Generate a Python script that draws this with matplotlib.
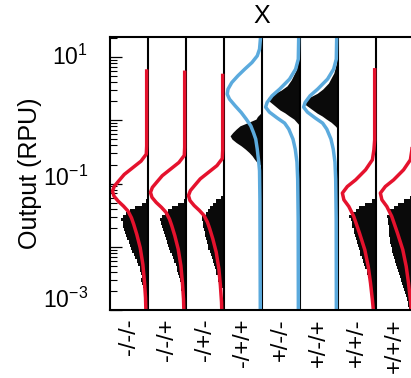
import numpy as np
import matplotlib
matplotlib.use('Agg')
import matplotlib.pyplot as plt
from matplotlib.ticker import LogLocator, NullFormatter
from matplotlib.transforms import ScaledTranslation

plt.rcParams['font.family'] = ['Liberation Sans', 'DejaVu Sans']
plt.rcParams['mathtext.fontset'] = 'custom'
plt.rcParams['mathtext.rm'] = 'Liberation Sans'
plt.rcParams['mathtext.it'] = 'Liberation Sans:italic'

# one panel per input condition
conditions = ['-/-/-', '-/-/+', '-/+/-', '-/+/+', '+/-/-', '+/-/+', '+/+/-', '+/+/+']
curve_color = ['red', 'red', 'red', 'blue', 'blue', 'blue', 'red', 'red']
curve_peak = [-1.12, -1.14, -1.19, 0.414, 0.209, 0.209, -1.151, -1.151]   # log10 RPU of curve maximum
curve_shape = ['low_a', 'low_a', 'low_a', 'high_a', 'high_b', 'high_b', 'low_b', 'low_b']

# predicted distribution shapes: offset from peak (decades) and width (fraction of panel)
shape_offset = {
    'low_a': [1.90, 0.712, 0.585, 0.474, 0.369, 0.264, 0.158, 0.079, 0, -0.079, -0.158, -0.237,
              -0.316, -0.422, -0.526, -0.684, -0.896, -1.159, -1.423, -1.687, -1.897, -2.3],
    'low_b': [1.95, 0.842, 0.684, 0.527, 0.368, 0.210, 0.104, 0, -0.106, -0.212, -0.370, -0.632,
              -0.896, -1.16, -1.42, -1.69, -1.85, -2.3],
    'high_a': [0.922, 0.712, 0.606, 0.500, 0.395, 0.290, 0.184, 0.079, 0, -0.079, -0.185, -0.291,
               -0.395, -0.501, -0.607, -0.711, -0.869, -1.081, -1.212, -1.671, -3.41],
    'high_b': [1.075, 0.759, 0.601, 0.443, 0.285, 0.179, 0.074, 0, -0.079, -0.174, -0.253, -0.348,
               -0.506, -0.664, -0.870, -1.138, -1.771, -3.4],
}
shape_width = {
    'low_a': [0, 0, 0.01, 0.15, 0.37, 0.59, 0.74, 0.85, 0.90, 0.86, 0.75, 0.61,
              0.49, 0.40, 0.34, 0.26, 0.17, 0.10, 0.06, 0.03, 0.02, 0.01],
    'low_b': [0, 0, 0.02, 0.06, 0.24, 0.50, 0.72, 0.85, 0.81, 0.68, 0.55, 0.40,
              0.26, 0.17, 0.11, 0.06, 0.035, 0.02],
    'high_a': [0, 0.03, 0.09, 0.23, 0.42, 0.60, 0.76, 0.86, 0.88, 0.82, 0.67, 0.51,
               0.38, 0.26, 0.19, 0.13, 0.09, 0.05, 0.03, 0.02, 0.01],
    'high_b': [0, 0.01, 0.08, 0.24, 0.50, 0.70, 0.83, 0.87, 0.77, 0.56, 0.37, 0.26,
               0.15, 0.09, 0.045, 0.026, 0.013, 0.008],
}

# measured histograms, low-output panels: log10 bins of 0.05 decade
low_bins = np.arange(37) * 0.05 - 2.975
hist_low = {
    0: [0.07, 0.07, 0.07, 0.08, 0.08, 0.09, 0.11, 0.12, 0.15, 0.18, 0.16, 0.19, 0.21, 0.22, 0.26, 0.29,
        0.34, 0.38, 0.42, 0.45, 0.48, 0.50, 0.54, 0.57, 0.61, 0.62, 0.65, 0.67, 0.71, 0.66, 0.57, 0.48,
        0.34, 0.16, 0.05, 0, 0],
    1: [0.05, 0.06, 0.08, 0.07, 0.10, 0.09, 0.12, 0.14, 0.13, 0.17, 0.19, 0.20, 0.23, 0.25, 0.27, 0.31,
        0.33, 0.37, 0.41, 0.44, 0.47, 0.49, 0.52, 0.56, 0.58, 0.61, 0.63, 0.66, 0.69, 0.64, 0.55, 0.47,
        0.36, 0.20, 0.06, 0, 0],
    2: [0, 0, 0, 0.01, 0.02, 0.02, 0.03, 0.08, 0.12, 0.16, 0.17, 0.20, 0.22, 0.24, 0.27, 0.29,
        0.32, 0.35, 0.38, 0.41, 0.43, 0.45, 0.47, 0.50, 0.51, 0.53, 0.55, 0.56, 0.58, 0.57, 0.47, 0.42,
        0.38, 0.30, 0.21, 0.08, 0],
    6: [0.05, 0.05, 0.07, 0.08, 0.09, 0.11, 0.13, 0.12, 0.17, 0.19, 0.21, 0.24, 0.25, 0.30, 0.32, 0.35,
        0.37, 0.41, 0.43, 0.45, 0.48, 0.50, 0.53, 0.55, 0.57, 0.59, 0.62, 0.64, 0.67, 0.70, 0.62, 0.52,
        0.44, 0.30, 0.10, 0, 0],
    7: [0.14, 0.15, 0.17, 0.19, 0.20, 0.23, 0.26, 0.28, 0.31, 0.34, 0.37, 0.40, 0.43, 0.45, 0.48, 0.49,
        0.52, 0.54, 0.57, 0.59, 0.60, 0.62, 0.64, 0.65, 0.65, 0.66, 0.67, 0.68, 0.69, 0.70, 0.66, 0.63,
        0.53, 0.43, 0.26, 0.10, 0],
}

# measured histograms, high-output panels (smooth): log10 output and width
hist_high_logy = {
    3: [0.134, 0.060, 0.019, -0.035, -0.087, -0.139, -0.193, -0.245, -0.297, -0.351, -0.403, -0.455,
        -0.509, -0.561, -0.613, -0.667, -0.703, -0.735],
    4: [1.115, 0.957, 0.798, 0.640, 0.545, 0.476, 0.414, 0.356, 0.308, 0.229, 0.164, 0.119, 0.071,
        0.019, -0.035, -0.087],
    5: [1.065, 0.907, 0.748, 0.590, 0.495, 0.426, 0.364, 0.306, 0.258, 0.179, 0.114, 0.069, 0.021,
        -0.031, -0.085, -0.137],
}
hist_high_w = {
    3: [0, 0.12, 0.16, 0.37, 0.58, 0.68, 0.77, 0.84, 0.79, 0.68, 0.55, 0.44, 0.34, 0.26, 0.20, 0.13,
        0.05, 0],
    4: [0, 0.04, 0.10, 0.23, 0.34, 0.50, 0.71, 0.85, 0.82, 0.66, 0.53, 0.40, 0.29, 0.16, 0.08, 0],
    5: [0, 0.04, 0.11, 0.25, 0.40, 0.55, 0.75, 0.90, 0.88, 0.70, 0.55, 0.42, 0.31, 0.18, 0.08, 0],
}

ytick_values = [1e1, 1e-1, 1e-3]
ytick_labels = [r'$10^{1}$', r'$10^{-1}$', r'$10^{-3}$']

colors = {'red': '#E5122D', 'blue': '#5BAADD'}

fig = plt.figure(figsize=(4.11, 3.78), dpi=100)
ax = fig.add_axes([110 / 411, 1 - 310 / 378, 304 / 411, 273 / 378])
ax.set_yscale('log')
ax.set_xlim(0, len(conditions))
ax.set_ylim(1e-3, 10 ** 1.318)

for i in range(len(conditions)):
    right = i + 1
    # histogram (black), hanging left from the panel's right edge
    if i in hist_low:
        w = np.array(hist_low[i])
        yy = np.column_stack([low_bins - 0.025, low_bins + 0.025]).ravel()
        ww = np.repeat(w, 2)
        ax.fill_betweenx(10 ** yy, right - ww, right, color='#0a0a0a', lw=0, zorder=2)
    else:
        yy = np.array(hist_high_logy[i])
        ww = np.array(hist_high_w[i])
        ax.fill_betweenx(10 ** yy, right - ww, right, color='#0a0a0a', lw=0, zorder=2)

    # predicted distribution
    s = curve_shape[i]
    cy = 10 ** (curve_peak[i] + np.array(shape_offset[s]))
    cx = right - 0.035 - np.array(shape_width[s])
    ax.plot(cx, cy, color=colors[curve_color[i]], lw=2.5, zorder=4, solid_joinstyle='round')

# panel dividers
for k in range(1, len(conditions)):
    ax.axvline(k, color='black', lw=1.5, zorder=3)

for sp in ax.spines.values():
    sp.set_linewidth(1.5)
    sp.set_zorder(5)

ax.yaxis.set_major_locator(LogLocator(base=10, numticks=12))
ax.yaxis.set_minor_locator(LogLocator(base=10, subs=range(2, 10), numticks=12))
ax.yaxis.set_major_formatter(NullFormatter())
ax.yaxis.set_minor_formatter(NullFormatter())
ax.tick_params(axis='y', which='major', direction='in', length=8.5, width=0.9, left=True, right=False)
ax.tick_params(axis='y', which='minor', direction='in', length=5, width=0.8, left=True, right=False)

# decade labels, nudged like the original
label_dy = [0, 5, 10]
for v, lab, dy in zip(ytick_values, ytick_labels, label_dy):
    tr = ax.get_yaxis_transform() + ScaledTranslation(-22 / 100, dy / 100, fig.dpi_scale_trans)
    ax.text(0, v, lab, transform=tr, ha='right', va='center', fontsize=16.5)

ax.set_xticks(np.arange(len(conditions)) + 0.5)
ax.set_xticklabels(conditions, rotation=90, fontsize=17, va='top', ha='center')
ax.tick_params(axis='x', length=0, pad=6)

ax.set_title('X', fontsize=18, pad=10)
ax.set_ylabel('Output (RPU)', fontsize=18)
ax.yaxis.set_label_coords(-0.224, 0.5)

fig.savefig('out.png', dpi=100)
